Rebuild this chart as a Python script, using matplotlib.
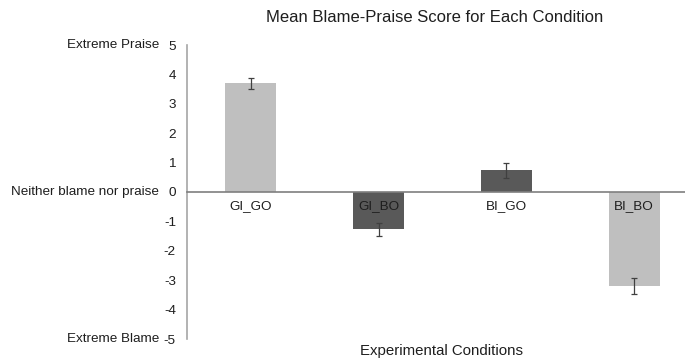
import numpy as np
import matplotlib
matplotlib.use('Agg')
import matplotlib.pyplot as plt
from matplotlib.transforms import blended_transform_factory

conditions = ['GI_GO', 'GI_BO', 'BI_GO', 'BI_BO']
means = [3.70, -1.27, 0.74, -3.20]
errors = [0.18, 0.23, 0.25, 0.26]
bar_colors = ['#bfbfbf', '#595959', '#595959', '#bfbfbf']
y_ticks = [-5, -4, -3, -2, -1, 0, 1, 2, 3, 4, 5]
anchor_vals = [5, 0, -5]
anchor_text = ['Extreme Praise', 'Neither blame nor praise', 'Extreme Blame']

plt.rcParams['font.family'] = ['Liberation Sans', 'DejaVu Sans']
txt_col = '#1e1e1e'

fig = plt.figure(figsize=(6.85, 3.6), dpi=100)
ax = fig.add_axes([187 / 685, 21 / 360, 511 / 685, 294 / 360])

x = np.arange(len(conditions))
ax.bar(x, means, width=0.4, color=bar_colors, zorder=2)
ax.errorbar(x, means, yerr=errors, fmt='none', ecolor='#404040',
            elinewidth=0.9, capsize=2.5, capthick=0.9, zorder=3)

ax.set_xlim(-0.5, 3.5)
ax.set_ylim(-5, 5)
ax.set_yticks(y_ticks)
ax.set_yticklabels([str(v) for v in y_ticks])
ax.set_xticks(x)
ax.set_xticklabels(conditions)
ax.tick_params(axis='both', length=0, labelsize=9.7, colors=txt_col)
ax.tick_params(axis='y', pad=8)
ax.tick_params(axis='x', pad=6)
ax.xaxis.set_zorder(5)

for s in ['top', 'right']:
    ax.spines[s].set_visible(False)
ax.spines['left'].set_color('#a6a6a6')
ax.spines['left'].set_linewidth(1.2)
ax.spines['bottom'].set_position(('data', 0))
ax.spines['bottom'].set_color('#7f7f7f')
ax.spines['bottom'].set_linewidth(1.2)
ax.spines['bottom'].set_zorder(4)

trans = blended_transform_factory(ax.transAxes, ax.transData)
for v, t in zip(anchor_vals, anchor_text):
    ax.annotate(t, xy=(0, v), xycoords=trans, xytext=(-20, 0),
                textcoords='offset points', ha='right', va='center',
                fontsize=9.7, color=txt_col)

fig.text(435 / 685, 1 - 17 / 360, 'Mean Blame-Praise Score for Each Condition',
         ha='center', va='center', fontsize=12, color=txt_col)
fig.text(442 / 685, 1 - 351 / 360, 'Experimental Conditions',
         ha='center', va='center', fontsize=10.8, color=txt_col)

fig.savefig('out.png', dpi=100)
